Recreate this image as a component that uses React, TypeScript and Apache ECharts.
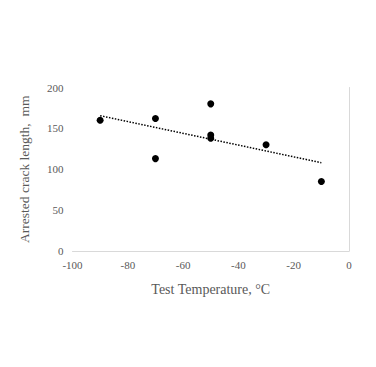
import React, { useEffect, useRef } from "react";
import * as echarts from "echarts";

const temperatures = [-90, -70, -70, -50, -50, -50, -30, -10];
const crackLengths = [160, 162, 113, 180, 142, 138, 130, 85];
const trendX = [-90, -10];
const trendY = [165.5, 108];

export default function App() {
  const ref = useRef<HTMLDivElement>(null);
  useEffect(() => {
    if (!ref.current) return;
    const chart = echarts.init(ref.current, null, { renderer: "svg" });
    const font = "Liberation Serif";
    chart.setOption({
      animation: false,
      backgroundColor: "#ffffff",
      grid: { left: 72.5, right: 27, top: 87.5, bottom: 116, containLabel: false },
      xAxis: {
        type: "value",
        min: -100,
        max: 0,
        interval: 20,
        name: "Test Temperature, °C",
        nameLocation: "middle",
        nameGap: 31,
        nameTextStyle: { fontFamily: font, fontSize: 14, color: "#595959" },
        axisLine: { show: true, lineStyle: { color: "#d9d9d9", width: 1 } },
        axisTick: { show: false },
        splitLine: { show: false },
        axisLabel: { fontFamily: font, fontSize: 11, color: "#595959", margin: 8 },
      },
      yAxis: {
        type: "value",
        min: 0,
        max: 200,
        interval: 50,
        name: "Arrested crack length,  mm",
        nameLocation: "middle",
        nameGap: 41,
        nameRotate: 90,
        nameTextStyle: { fontFamily: font, fontSize: 13.5, color: "#595959" },
        axisLine: { show: true, lineStyle: { color: "#d9d9d9", width: 1 } },
        axisTick: { show: false },
        splitLine: { show: false },
        axisLabel: { fontFamily: font, fontSize: 11, color: "#595959", margin: 9 },
      },
      series: [
        {
          type: "line",
          data: trendX.map((x, i) => [x, trendY[i]]),
          showSymbol: false,
          symbol: "none",
          lineStyle: { color: "#000000", width: 1.5, type: [1.5, 1.5] },
          z: 1,
        },
        {
          type: "scatter",
          data: temperatures.map((t, i) => [t, crackLengths[i]]),
          symbol: "circle",
          symbolSize: 7,
          itemStyle: { color: "#000000", opacity: 1 },
          z: 2,
        },
      ],
    });
    return () => chart.dispose();
  }, []);
  return <div ref={ref} style={{ width: 376, height: 367, margin: -8 }} />;
}
